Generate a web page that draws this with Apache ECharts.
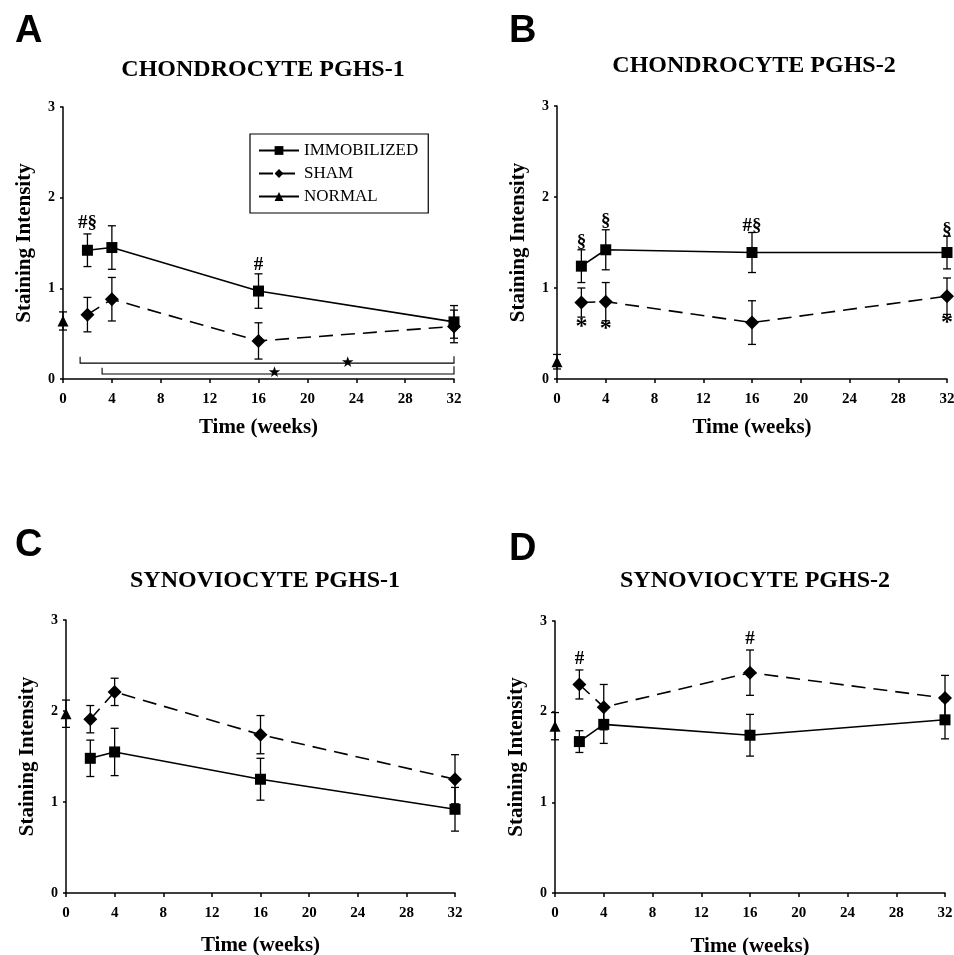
<!DOCTYPE html>
<html>
<head>
<meta charset="utf-8">
<script src="https://cdn.jsdelivr.net/npm/echarts@6/dist/echarts.min.js"></script>
<style>
html, body { margin: 0; padding: 0; background: #fff; }
#chart { width: 954px; height: 955px; }
</style>
</head>
<body>
<div id="chart"></div>
<script>
// weeks after surgery (normal control sits at week 0)
var weeks = [2, 4, 16, 32];
var xTicks = [0, 4, 8, 12, 16, 20, 24, 28, 32];
var yTicks = [0, 1, 2, 3];

var panelLetters = ["A", "B", "C", "D"];
var panelTitles = ["CHONDROCYTE PGHS-1", "CHONDROCYTE PGHS-2", "SYNOVIOCYTE PGHS-1", "SYNOVIOCYTE PGHS-2"];

// A - chondrocyte PGHS-1
var immA = [1.42, 1.45, 0.97, 0.63];
var immAErr = [0.18, 0.24, 0.19, 0.18];
var shamA = [0.71, 0.88, 0.42, 0.58];
var shamAErr = [0.19, 0.24, 0.20, 0.18];
var normA = 0.64, normAErr = 0.10;

// B - chondrocyte PGHS-2
var immB = [1.24, 1.42, 1.39, 1.39];
var immBErr = [0.18, 0.22, 0.22, 0.18];
var shamB = [0.84, 0.85, 0.62, 0.91];
var shamBErr = [0.16, 0.21, 0.24, 0.20];
var normB = 0.19, normBErr = 0.08;

// C - synoviocyte PGHS-1
var immC = [1.48, 1.55, 1.25, 0.92];
var immCErr = [0.20, 0.26, 0.23, 0.24];
var shamC = [1.91, 2.21, 1.74, 1.25];
var shamCErr = [0.15, 0.15, 0.21, 0.27];
var normC = 1.97, normCErr = 0.15;

// D - synoviocyte PGHS-2
var immD = [1.67, 1.86, 1.74, 1.91];
var immDErr = [0.12, 0.21, 0.23, 0.21];
var shamD = [2.30, 2.05, 2.43, 2.15];
var shamDErr = [0.16, 0.25, 0.25, 0.25];
var normD = 1.84, normDErr = 0.15;

// significance marks [week, y, text]
var notesA = [[2, 1.72, "#§"], [16, 1.26, "#"]];
var notesB = [[2, 1.50, "§"], [4, 1.74, "§"], [16, 1.68, "#§"], [32, 1.64, "§"]];
var starsB = [[2, 0.57, "*"], [4, 0.55, "*"], [32, 0.62, "*"]];
var notesD = [[2, 2.58, "#"], [16, 2.80, "#"]];
// brackets in A: [x1, x2, y, leftTop, rightTop]
var bracketsA = [[1.4, 32, 0.175, 0.245, 0.25], [3.2, 32, 0.055, 0.125, 0.14]];
var bracketStarsA = [[23.3, 0.18, "★"], [17.3, 0.06, "★"]];

var panels = [
    { imm: immA, immErr: immAErr, sham: shamA, shamErr: shamAErr, norm: normA, normErr: normAErr },
    { imm: immB, immErr: immBErr, sham: shamB, shamErr: shamBErr, norm: normB, normErr: normBErr },
    { imm: immC, immErr: immCErr, sham: shamC, shamErr: shamCErr, norm: normC, normErr: normCErr },
    { imm: immD, immErr: immDErr, sham: shamD, shamErr: shamDErr, norm: normD, normErr: normDErr }
];

var grids = [
    { left: 63, top: 107, width: 391, height: 272, outerBoundsMode: "none" },
    { left: 557, top: 106, width: 390, height: 273, outerBoundsMode: "none" },
    { left: 66, top: 620, width: 389, height: 273, outerBoundsMode: "none" },
    { left: 555, top: 621, width: 390, height: 272, outerBoundsMode: "none" }
];
var titlePos = [
    { letter: [10, 8], center: 258, top: 53, xGap: 38 },
    { letter: [504, 8], center: 749, top: 49, xGap: 38 },
    { letter: [10, 522], center: 260, top: 564, xGap: 42 },
    { letter: [504, 526], center: 750, top: 564, xGap: 43 }
];

var serif = "Liberation Serif";

function errorBar(params, api) {
    var x = api.value(0);
    var top = api.coord([x, api.value(2)]);
    var bot = api.coord([x, api.value(1)]);
    var cap = 4;
    var st = { stroke: "#000", lineWidth: 1.3 };
    return {
        type: "group",
        children: [
            { type: "line", shape: { x1: top[0], y1: top[1], x2: bot[0], y2: bot[1] }, style: st },
            { type: "line", shape: { x1: top[0] - cap, y1: top[1], x2: top[0] + cap, y2: top[1] }, style: st },
            { type: "line", shape: { x1: bot[0] - cap, y1: bot[1], x2: bot[0] + cap, y2: bot[1] }, style: st }
        ]
    };
}

function bracket(params, api) {
    var a = api.coord([api.value(0), api.value(3)]);
    var b = api.coord([api.value(0), api.value(2)]);
    var c = api.coord([api.value(1), api.value(2)]);
    var d = api.coord([api.value(1), api.value(4)]);
    return {
        type: "polyline",
        shape: { points: [a, b, c, d] },
        style: { stroke: "#000", lineWidth: 1.1, fill: null }
    };
}

function errData(xs, ys, es) {
    return xs.map(function (x, i) { return [x, ys[i] - es[i], ys[i] + es[i]]; });
}

function noteSeries(idx, data, size, font) {
    return {
        type: "scatter",
        xAxisIndex: idx, yAxisIndex: idx,
        symbolSize: 1,
        silent: true,
        data: data,
        itemStyle: { opacity: 1, color: "rgba(0,0,0,0)" },
        label: {
            show: true,
            position: "inside",
            formatter: function (p) { return p.value[2]; },
            color: "#000",
            opacity: 1,
            fontFamily: font || serif,
            fontWeight: "bold",
            fontSize: size
        },
        z: 5
    };
}

var option = {
    backgroundColor: "#fff",
    animation: false,
    title: [],
    grid: grids,
    xAxis: [],
    yAxis: [],
    legend: {
        data: ["IMMOBILIZED", "SHAM", "NORMAL"],
        orient: "vertical",
        left: 250,
        top: 134,
        padding: [8, 10, 8, 8],
        itemGap: 6,
        itemWidth: 40,
        itemHeight: 11,
        borderColor: "#000",
        borderWidth: 1.2,
        textStyle: { fontFamily: serif, fontSize: 17, color: "#000" }
    },
    series: []
};

grids.forEach(function (g, i) {
    var tp = titlePos[i];
    option.title.push({
        text: panelLetters[i],
        left: tp.letter[0], top: tp.letter[1],
        textStyle: { fontFamily: "Liberation Sans", fontWeight: "bold", fontSize: 38, color: "#000" }
    });
    option.title.push({
        text: panelTitles[i],
        left: tp.center, top: tp.top, textAlign: "center",
        textStyle: { fontFamily: serif, fontWeight: "bold", fontSize: 24, color: "#000" }
    });
    option.xAxis.push({
        type: "value", gridIndex: i,
        min: xTicks[0], max: xTicks[xTicks.length - 1], interval: 4,
        name: "Time (weeks)", nameLocation: "middle", nameGap: tp.xGap,
        nameTextStyle: { fontFamily: serif, fontWeight: "bold", fontSize: 21, color: "#000" },
        axisLine: { lineStyle: { color: "#000", width: 1.5 } },
        axisTick: { show: true, length: 4, lineStyle: { color: "#000", width: 1.5 } },
        axisLabel: { margin: 13, fontFamily: serif, fontWeight: "bold", fontSize: 15, color: "#000" },
        splitLine: { show: false }
    });
    option.yAxis.push({
        type: "value", gridIndex: i,
        min: yTicks[0], max: yTicks[yTicks.length - 1], interval: 1,
        name: "Staining Intensity", nameLocation: "middle", nameGap: 28,
        nameTextStyle: { fontFamily: serif, fontWeight: "bold", fontSize: 21, color: "#000" },
        axisLine: { show: true, lineStyle: { color: "#000", width: 1.5 } },
        axisTick: { show: true, length: 3, lineStyle: { color: "#000", width: 1.5 } },
        axisLabel: { margin: 8, fontFamily: serif, fontWeight: "bold", fontSize: 14, color: "#000" },
        splitLine: { show: false }
    });

    var p = panels[i];
    option.series.push({
        type: "custom", name: "immErr", xAxisIndex: i, yAxisIndex: i,
        renderItem: errorBar, data: errData(weeks, p.imm, p.immErr),
        encode: { x: 0, y: [1, 2] }, silent: true, z: 3
    });
    option.series.push({
        type: "custom", name: "shamErr", xAxisIndex: i, yAxisIndex: i,
        renderItem: errorBar, data: errData(weeks, p.sham, p.shamErr),
        encode: { x: 0, y: [1, 2] }, silent: true, z: 3
    });
    option.series.push({
        type: "custom", name: "normErr", xAxisIndex: i, yAxisIndex: i,
        renderItem: errorBar, data: errData([0], [p.norm], [p.normErr]),
        encode: { x: 0, y: [1, 2] }, silent: true, z: 3
    });
    option.series.push({
        type: "line", name: "IMMOBILIZED", xAxisIndex: i, yAxisIndex: i,
        data: weeks.map(function (w, k) { return [w, p.imm[k]]; }),
        symbol: "rect", symbolSize: 11, showAllSymbol: true,
        lineStyle: { color: "#000", width: 1.6 },
        itemStyle: { color: "#000" }, z: 4
    });
    option.series.push({
        type: "line", name: "SHAM", xAxisIndex: i, yAxisIndex: i,
        data: weeks.map(function (w, k) { return [w, p.sham[k]]; }),
        symbol: "diamond", symbolSize: 14,
        lineStyle: { color: "#000", width: 1.6, type: [14, 8] },
        itemStyle: { color: "#000" }, z: 4
    });
    option.series.push({
        type: "line", name: "NORMAL", xAxisIndex: i, yAxisIndex: i,
        data: [[0, p.norm]],
        symbol: "triangle", symbolSize: 11,
        lineStyle: { color: "#000", width: 1 },
        itemStyle: { color: "#000" }, z: 4
    });
});

option.series.push({
    type: "custom", xAxisIndex: 0, yAxisIndex: 0, renderItem: bracket,
    data: bracketsA, encode: { x: [0, 1], y: [2, 3, 4] }, silent: true
});
option.series.push(noteSeries(0, bracketStarsA, 15, "DejaVu Sans"));
option.series.push(noteSeries(0, notesA, 19));
option.series.push(noteSeries(1, notesB, 19));
option.series.push(noteSeries(1, starsB, 24));
option.series.push(noteSeries(3, notesD, 19));

var myChart = echarts.init(document.getElementById("chart"));
myChart.setOption(option);
window.addEventListener("resize", function () {
    myChart.resize();
});
</script>
</body>
</html>
